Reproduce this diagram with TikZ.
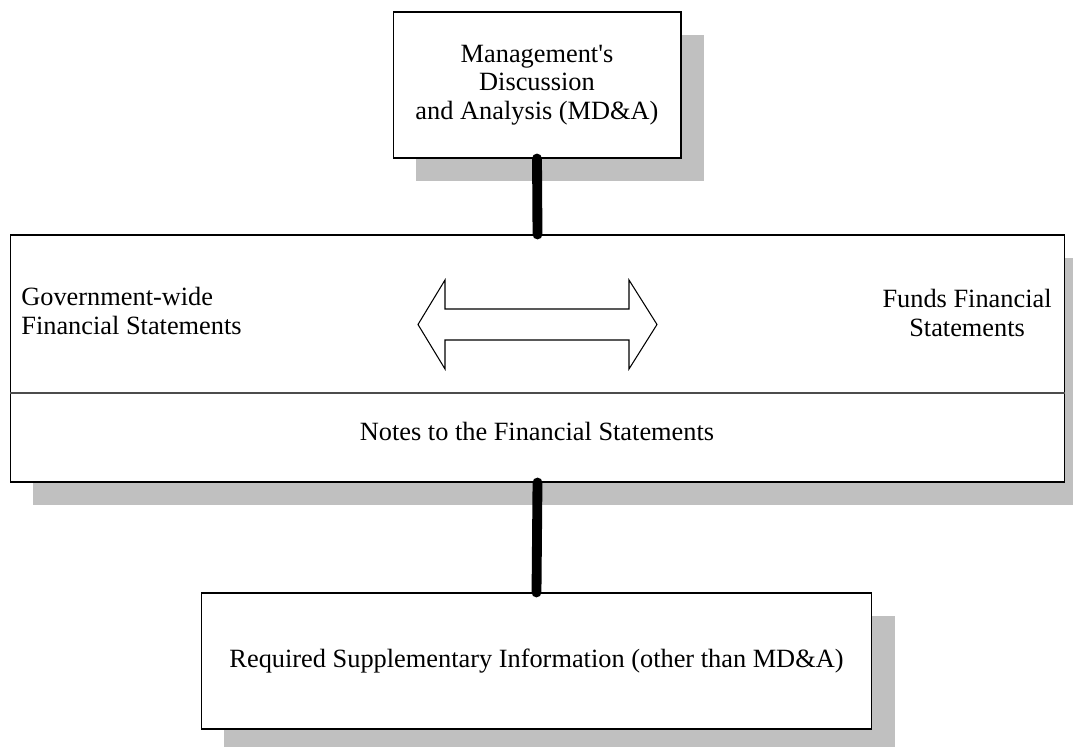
\documentclass[tikz,border=0pt]{standalone}
\usepackage{fontspec}
\setmainfont{Liberation Serif}
\usetikzlibrary{shadows}
\definecolor{shadowgray}{RGB}{192,192,192}
\tikzset{
	box/.style={draw=black, line width=0.6pt, fill=white, inner sep=0pt, align=center,
		drop shadow={shadow xshift=0.46cm, shadow yshift=-0.46cm, fill=shadowgray, opacity=1}},
	txt/.style={inner sep=0pt},
	link/.style={line width=5.6pt, line cap=round, black},
}

\begin{document}
\begin{tikzpicture}[x=0.02cm, y=-0.02cm, font=\fontsize{15}{16.2}\selectfont]
			%%%%% START %%%%%
			
			\useasboundingbox (0,0) rectangle (1073,747);
			\clip (0,0) rectangle (1073,747);
			
			\node[box, minimum width=5.76cm, minimum height=2.92cm] (mdna) at (537,85) {Management\textquotesingle s\\Discussion\\and Analysis (MD\&A)};
			
			\node[box, minimum width=21.1cm, minimum height=4.94cm] (stmts) at (537.5,358.5) {};
			\coordinate (divl) at (10,393);
			\coordinate (divr) at (1065,393);
			\draw[line width=0.6pt, color=black!70] (divl) -- (divr);
			
			\node[txt, align=left, anchor=west] (govwide) at (21,311) {Government-wide\\Financial Statements};
			\node[txt, align=center, anchor=east] (funds) at (1052,313) {Funds Financial\\Statements};
			\node[txt] (notes) at (537,431) {Notes to the Financial Statements};
			
			\draw[line width=0.6pt, fill=white] (418,324.5) -- (445,280) -- (445,309) -- (629,309) -- (629,280) -- (657,324.5) -- (629,369) -- (629,340) -- (445,340) -- (445,369) -- cycle;
			
			\node[box, minimum width=13.42cm, minimum height=2.72cm] (rsi) at (536.5,661) {Required Supplementary Information (other than MD\&A)};
			
			\draw[link] (mdna.south) -- (stmts.north);
			\draw[link] (stmts.south) -- (rsi.north);
			
			%%%%% END %%%%%
\end{tikzpicture}
\end{document}
